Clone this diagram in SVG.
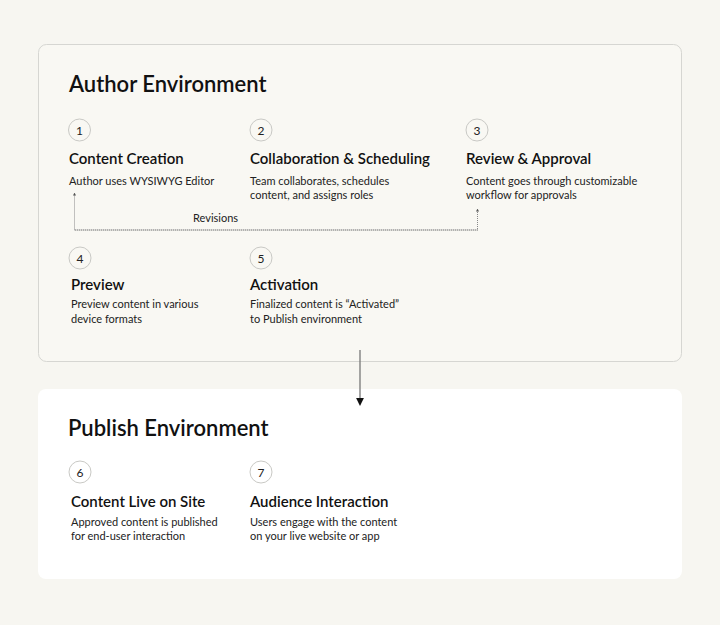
<svg xmlns="http://www.w3.org/2000/svg" width="720" height="625" viewBox="0 0 720 625">
<defs>
<style>
.bg{fill:#f7f6f1}
.title{font-family:Lato,"Liberation Sans",sans-serif;font-size:22px;font-weight:600;fill:#111}
.head{font-family:Lato,"Liberation Sans",sans-serif;font-size:15px;font-weight:600;fill:#111}
.desc{font-family:Lato,"Liberation Sans",sans-serif;font-size:11px;fill:#222}
.num{font-family:Lato,"Liberation Sans",sans-serif;font-size:12px;fill:#222;text-anchor:middle}
.circ{fill:none;stroke:#c9c9c5;stroke-width:1}
.lbl{font-family:Lato,"Liberation Sans",sans-serif;font-size:11px;fill:#222}
</style>
<marker id="ah" viewBox="0 0 6 6" refX="3" refY="3" markerWidth="6" markerHeight="6" orient="auto">
<path d="M0,0 L6,3 L0,6 z" fill="#111"/>
</marker>
<marker id="ahs" viewBox="0 0 4 4" refX="2" refY="2" markerWidth="3" markerHeight="3" orient="auto">
<path d="M0,0 L4,2 L0,4 z" fill="#555"/>
</marker>
</defs>
<rect class="bg" x="0" y="0" width="720" height="625"/>
<g id="author-env">
<rect x="38.5" y="44.5" width="643" height="317" rx="8" fill="#f9f8f3" stroke="#d6d6d2"/>
<text class="title" x="69" y="92">Author Environment</text>
</g>
<g id="publish-env">
<rect x="38" y="389" width="644" height="190" rx="8" fill="#ffffff"/>
<text class="title" x="68" y="436">Publish Environment</text>
</g>
<g id="step1">
<circle class="circ" cx="79.5" cy="130" r="11"/>
<text class="num" x="79.5" y="134.5">1</text>
<text class="head" x="69" y="164">Content Creation</text>
<text class="desc" x="69" y="185">Author uses WYSIWYG Editor</text>
</g>
<g id="step2">
<circle class="circ" cx="261" cy="130" r="11"/>
<text class="num" x="261" y="134.5">2</text>
<text class="head" x="250" y="164">Collaboration &amp; Scheduling</text>
<text class="desc" x="250" y="185">Team collaborates, schedules</text>
<text class="desc" x="250" y="199">content, and assigns roles</text>
</g>
<g id="step3">
<circle class="circ" cx="477" cy="130" r="11"/>
<text class="num" x="477" y="134.5">3</text>
<text class="head" x="466" y="164">Review &amp; Approval</text>
<text class="desc" x="466" y="185">Content goes through customizable</text>
<text class="desc" x="466" y="199">workflow for approvals</text>
</g>
<g id="step4">
<circle class="circ" cx="80" cy="258" r="11"/>
<text class="num" x="80" y="262.5">4</text>
<text class="head" x="71" y="290">Preview</text>
<text class="desc" x="71" y="308">Preview content in various</text>
<text class="desc" x="71" y="323">device formats</text>
</g>
<g id="step5">
<circle class="circ" cx="261" cy="258" r="11"/>
<text class="num" x="261" y="262.5">5</text>
<text class="head" x="250" y="290">Activation</text>
<text class="desc" x="250" y="308">Finalized content is “Activated”</text>
<text class="desc" x="250" y="323">to Publish environment</text>
</g>
<g id="step6">
<circle class="circ" cx="80" cy="472" r="11"/>
<text class="num" x="80" y="476.5">6</text>
<text class="head" x="71" y="507">Content Live on Site</text>
<text class="desc" x="71" y="526">Approved content is published</text>
<text class="desc" x="71" y="540">for end-user interaction</text>
</g>
<g id="step7">
<circle class="circ" cx="261" cy="472" r="11"/>
<text class="num" x="261" y="476.5">7</text>
<text class="head" x="250" y="507">Audience Interaction</text>
<text class="desc" x="250" y="526">Users engage with the content</text>
<text class="desc" x="250" y="540">on your live website or app</text>
</g>
<g id="connectors">
<path d="M478,230 L74.5,230 L74.5,194" fill="none" stroke="#888" stroke-width="1" stroke-dasharray="1,1" marker-end="url(#ahs)"/>
<path d="M74.5,230 L477.5,230 L477.5,210" fill="none" stroke="#888" stroke-width="1" stroke-dasharray="1,1" marker-end="url(#ahs)"/>
<text class="lbl" x="193" y="222">Revisions</text>
<line x1="360" y1="350" x2="360" y2="402" stroke="#777" stroke-width="1.3" marker-end="url(#ah)"/>
</g>
</svg>
